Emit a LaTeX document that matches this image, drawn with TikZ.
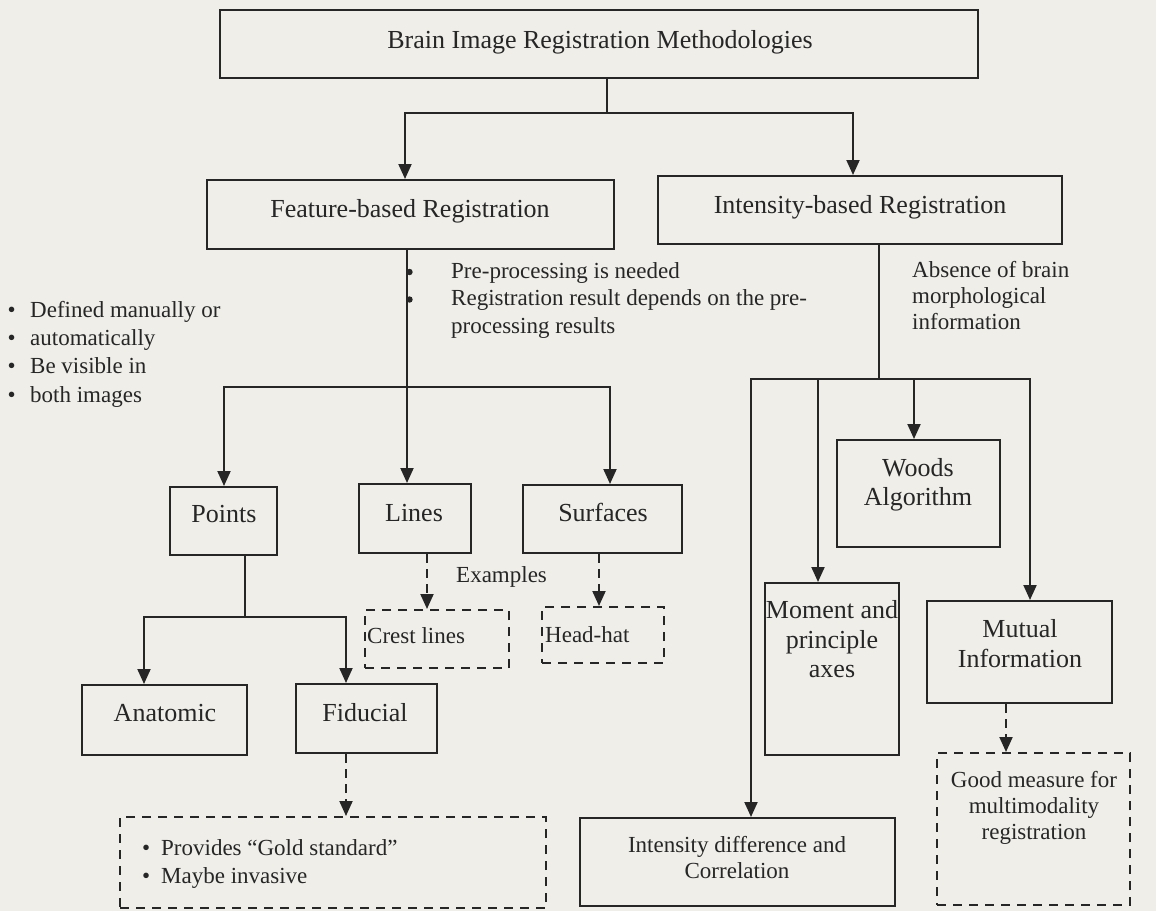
\documentclass[tikz,border=0pt]{standalone}
\usepackage{fontspec}
\setmainfont{Liberation Serif}
\usetikzlibrary{arrows.meta}
\definecolor{paper}{RGB}{239,238,233}
\definecolor{ink}{RGB}{38,38,38}
\begin{document}
\begin{tikzpicture}[x=1pt,y=-1pt,
  box/.style={draw=ink, line width=2pt, inner sep=0pt, rectangle},
  dbox/.style={box, dash pattern=on 9pt off 7pt},
  big/.style={font=\fontsize{26}{30}\selectfont, text=ink, inner sep=0pt},
  small/.style={font=\fontsize{23}{27}\selectfont, text=ink, inner sep=0pt},
  wire/.style={draw=ink, line width=2pt},
  arr/.style={wire, -{Triangle[width=13pt,length=15pt]}},
  darr/.style={arr, dash pattern=on 9pt off 6pt},
]
% page
\fill[paper] (0,0) rectangle (1156,911);
\useasboundingbox (0,0) rectangle (1156,911);

% ---- boxes ----
\node[box, minimum width=758pt, minimum height=68pt] (top) at (599,44) {};
\node[box, minimum width=407pt, minimum height=69pt] (feat) at (410.5,214.5) {};
\node[box, minimum width=404pt, minimum height=68pt] (inten) at (860,210) {};
\node[box, minimum width=107pt, minimum height=68pt] (points) at (223.5,521) {};
\node[box, minimum width=112pt, minimum height=69pt] (lines) at (415,518.5) {};
\node[box, minimum width=159pt, minimum height=68pt] (surf) at (602.5,519) {};
\node[dbox, minimum width=144pt, minimum height=58pt] (crest) at (437,639) {};
\node[dbox, minimum width=122pt, minimum height=56pt] (headhat) at (603,635) {};
\node[box, minimum width=165pt, minimum height=70pt] (anat) at (164,720) {};
\node[box, minimum width=141pt, minimum height=69pt] (fid) at (366,718.5) {};
\node[dbox, minimum width=426pt, minimum height=91pt] (gold) at (333,862.5) {};
\node[box, minimum width=163pt, minimum height=107pt] (woods) at (918.5,493.5) {};
\node[box, minimum width=134pt, minimum height=172pt] (moment) at (832,669) {};
\node[box, minimum width=185pt, minimum height=102pt] (mutual) at (1019.5,652) {};
\node[dbox, minimum width=193pt, minimum height=152pt] (good) at (1033.5,829) {};
\node[box, minimum width=315pt, minimum height=88pt] (idiff) at (737.5,862) {};

% ---- texts ----
\node[big, anchor=base] (topT) at (600,48) {Brain Image Registration Methodologies};
\node[big, anchor=base] (featT) at (410,217) {Feature-based Registration};
\node[big, anchor=base] (intenT) at (860,213) {Intensity-based Registration};

\node[small, anchor=base west] (pre1) at (451,278) {Pre-processing is needed};
\node[small, anchor=base west] (pre2) at (451,305.5) {Registration result depends on the pre-};
\node[small, anchor=base west] (pre3) at (451,333) {processing results};

\node[small, anchor=base west] (lst1) at (7.5,317) {\makebox[22.5pt][l]{•}Defined manually or};
\node[small, anchor=base west] (lst2) at (7.5,345) {\makebox[22.5pt][l]{•}automatically};
\node[small, anchor=base west] (lst3) at (7.5,373) {\makebox[22.5pt][l]{•}Be visible in};
\node[small, anchor=base west] (lst4) at (7.5,402) {\makebox[22.5pt][l]{•}both images};

\node[small, anchor=base west] (abs1) at (912,277) {Absence of brain};
\node[small, anchor=base west] (abs2) at (912,303) {morphological};
\node[small, anchor=base west] (abs3) at (912,329) {information};

\node[big, anchor=base] (pointsT) at (224,522) {Points};
\node[big, anchor=base] (linesT) at (414,521) {Lines};
\node[big, anchor=base] (surfT) at (603,521) {Surfaces};

\node[small, anchor=base west] (exT) at (456,582) {Examples};
\node[small, anchor=base west] (crestT) at (367,643) {Crest lines};
\node[small, anchor=base west] (headT) at (545,642) {Head-hat};

\node[big, anchor=base] (anatT) at (165,721) {Anatomic};
\node[big, anchor=base] (fidT) at (365,721) {Fiducial};

\node[small, anchor=base west] (gold1) at (142,855) {\makebox[19pt][l]{•}Provides “Gold standard”};
\node[small, anchor=base west] (gold2) at (142,883) {\makebox[19pt][l]{•}Maybe invasive};

\node[big, anchor=base] (woodsT1) at (918,476) {Woods};
\node[big, anchor=base] (woodsT2) at (918,505) {Algorithm};
\node[big, anchor=base] (momT1) at (832,618) {Moment and};
\node[big, anchor=base] (momT2) at (832,648) {principle};
\node[big, anchor=base] (momT3) at (832,677) {axes};
\node[big, anchor=base] (mutT1) at (1020,637) {Mutual};
\node[big, anchor=base] (mutT2) at (1020,667) {Information};
\node[small, anchor=base] (goodT1) at (1034,787) {Good measure for};
\node[small, anchor=base] (goodT2) at (1034,813) {multimodality};
\node[small, anchor=base] (goodT3) at (1034,839) {registration};
\node[small, anchor=base] (idT1) at (737,852) {Intensity difference and};
\node[small, anchor=base] (idT2) at (737,878) {Correlation};

% ---- junctions ----
\coordinate (j0) at (607,113);
\coordinate (jF) at (405,113);
\coordinate (jI) at (853,113);
\coordinate (jL) at (407,387);
\coordinate (jP) at (224,387);
\coordinate (jS) at (610,387);
\coordinate (xC) at (427,0);
\coordinate (xH) at (599,0);
\coordinate (jQ) at (245,617);
\coordinate (jA) at (144,617);
\coordinate (jB) at (346,617);
\coordinate (jR) at (879,379);
\coordinate (jD) at (751,379);
\coordinate (jM) at (818,379);
\coordinate (jW) at (914,379);
\coordinate (jU) at (1030,379);
\coordinate (xG) at (1006,0);

% ---- connectors ----
\draw[wire] (top.south -| j0) -- (j0);
\draw[arr] (j0) -- (jF) -- (jF |- feat.north);
\draw[arr] (j0) -- (jI) -- (jI |- inten.north);

\draw[arr] (feat.south -| jL) -- (lines.north -| jL);
\fill[ink] (409.5,272) circle (3.2pt);
\fill[ink] (409.5,299.5) circle (3.2pt);
\draw[arr] (jL) -- (jP) -- (jP |- points.north);
\draw[arr] (jL) -- (jS) -- (jS |- surf.north);

\draw[darr] (lines.south -| xC) -- (crest.north -| xC);
\draw[darr] (surf.south -| xH) -- (headhat.north -| xH);

\draw[wire] (points.south -| jQ) -- (jQ);
\draw[arr] (jQ) -- (jA) -- (jA |- anat.north);
\draw[arr] (jQ) -- (jB) -- (jB |- fid.north);
\draw[darr] (fid.south -| jB) -- (gold.north -| jB);

\draw[wire] (inten.south -| jR) -- (jR);
\draw[arr] (jR) -- (jD) -- (jD |- idiff.north);
\draw[arr] (jM) -- (jM |- moment.north);
\draw[arr] (jW) -- (jW |- woods.north);
\draw[arr] (jR) -- (jU) -- (jU |- mutual.north);
\draw[darr] (mutual.south -| xG) -- (good.north -| xG);
\end{tikzpicture}
\end{document}
